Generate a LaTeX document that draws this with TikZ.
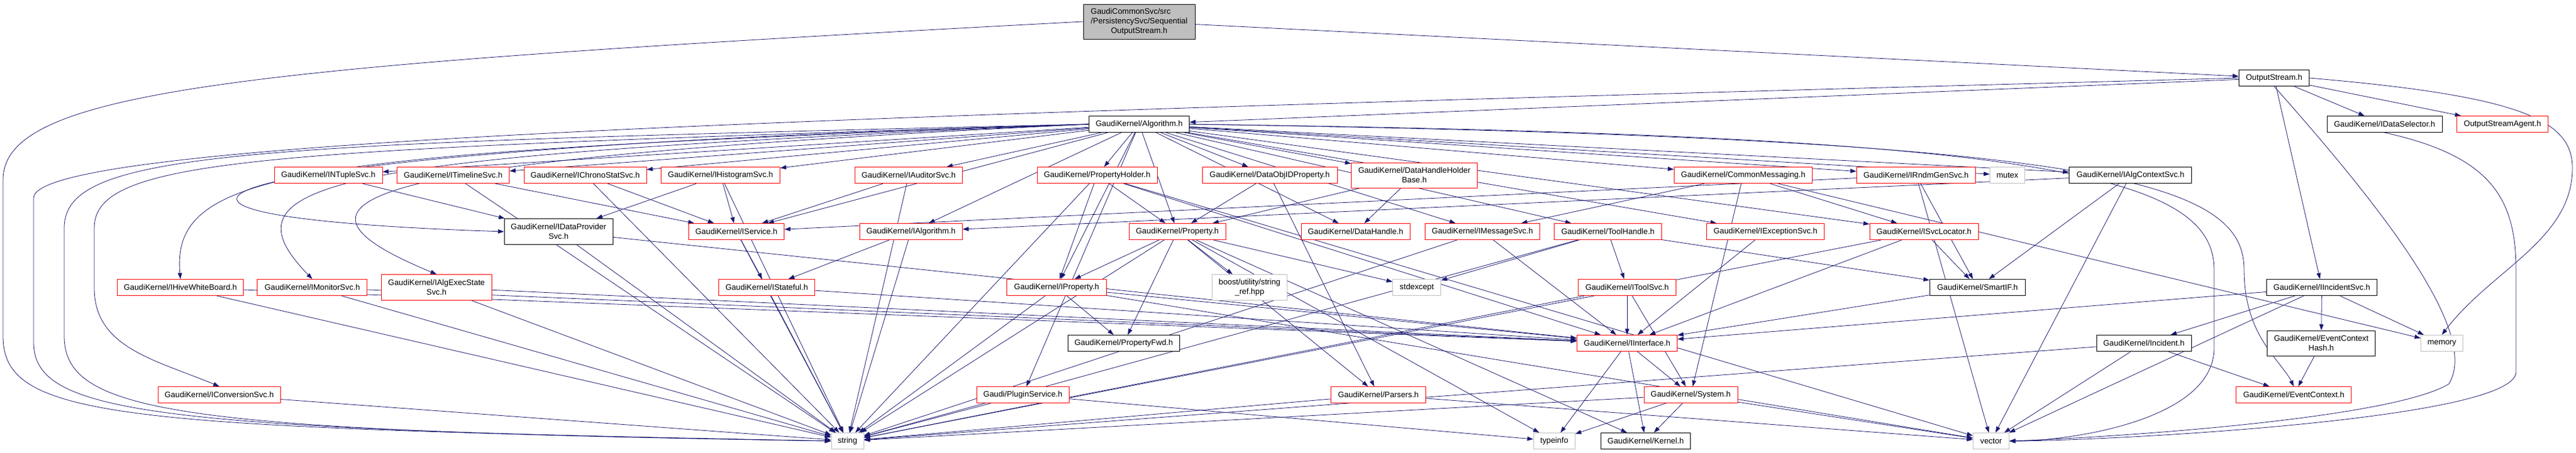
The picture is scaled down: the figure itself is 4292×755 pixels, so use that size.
\documentclass[tikz,border=0pt]{standalone}
\usepackage{fontspec}
\usepackage{tikz}
\usetikzlibrary{arrows.meta,backgrounds}
\newfontfamily\dotfont{Liberation Sans}
\definecolor{edgeblue}{HTML}{191970}
\definecolor{boxgray}{HTML}{BFBFBF}

\begin{document}
\begin{tikzpicture}[x=1pt,y=-1pt,
  box/.style={draw, fill=white, line width=1pt, inner xsep=3pt, inner ysep=2pt,
    minimum height=27pt, align=center, font={\dotfont\fontsize{13.3}{16}\selectfont}},
  redbox/.style={box, draw=red},
  blackbox/.style={box, draw=black},
  graybox/.style={box, draw=boxgray},
  rootbox/.style={box, draw=black, fill=boxgray},
  dep/.style={draw=edgeblue, line width=0.8pt, -{Triangle[length=10pt,width=7pt]}}]
\useasboundingbox (0,0) rectangle (4292,755);

% Draw root and first row
\node[rootbox, minimum width=186pt, minimum height=58pt] (root) at (1898,36)
  {\begin{tabular}{@{}l@{}}GaudiCommonSvc/src\\/PersistencySvc/Sequential\\\multicolumn{1}{@{}c@{}}{OutputStream.h}\end{tabular}};
\node[blackbox, minimum width=117pt] (outstream) at (3789,130) {OutputStream.h};
\node[blackbox, minimum width=167pt] (alg) at (1898,207) {GaudiKernel/Algorithm.h};
\node[blackbox, minimum width=192pt] (idatasel) at (3973,207) {GaudiKernel/IDataSelector.h};
\node[redbox, minimum width=152pt] (agent) at (4169.5,207) {OutputStreamAgent.h};

% Draw row two
\node[redbox, minimum width=180pt] (intuple) at (547,292) {GaudiKernel/INTupleSvc.h};
\node[redbox, minimum width=187pt] (itimeline) at (755,292) {GaudiKernel/ITimelineSvc.h};
\node[redbox, minimum width=204pt] (ichrono) at (975,292) {GaudiKernel/IChronoStatSvc.h};
\node[redbox, minimum width=198pt] (ihisto) at (1200.5,292) {GaudiKernel/IHistogramSvc.h};
\node[redbox, minimum width=179pt] (iauditor) at (1514,292) {GaudiKernel/IAuditorSvc.h};
\node[redbox, minimum width=200pt] (propholder) at (1828,292) {GaudiKernel/PropertyHolder.h};
\node[redbox, minimum width=225pt] (dataobjid) at (2115.5,292) {GaudiKernel/DataObjIDProperty.h};
\node[redbox, minimum width=210pt, minimum height=42pt] (dhhbase) at (2356.5,292) {GaudiKernel/DataHandleHolder\\Base.h};
\node[redbox, minimum width=230pt] (commsg) at (2904.4,292) {GaudiKernel/CommonMessaging.h};
\node[redbox, minimum width=198pt] (irndm) at (3192.4,292) {GaudiKernel/IRndmGenSvc.h};
\node[graybox, minimum width=58pt] (mutex) at (3344.6,292) {mutex};
\node[blackbox, minimum width=204pt] (ialgctx) at (3549.7,292) {GaudiKernel/IAlgContextSvc.h};

% Draw row three
\node[blackbox, minimum width=181pt, minimum height=43pt] (idataprov) at (930.7,386) {GaudiKernel/IDataProvider\\Svc.h};
\node[redbox, minimum width=159pt] (iservice) at (1227,386) {GaudiKernel/IService.h};
\node[redbox, minimum width=171pt] (ialgorithm) at (1517.8,386) {GaudiKernel/IAlgorithm.h};
\node[redbox, minimum width=161pt] (property) at (1961.6,386) {GaudiKernel/Property.h};
\node[redbox, minimum width=181pt] (datahandle) at (2258.6,386) {GaudiKernel/DataHandle.h};
\node[redbox, minimum width=191pt] (imsgsvc) at (2469.9,386) {GaudiKernel/IMessageSvc.h};
\node[redbox, minimum width=179pt] (toolhandle) at (2679,386) {GaudiKernel/ToolHandle.h};
\node[redbox, minimum width=196pt] (iexcsvc) at (2941.5,386) {GaudiKernel/IExceptionSvc.h};
\node[redbox, minimum width=181pt] (isvcloc) at (3205.7,386) {GaudiKernel/ISvcLocator.h};

% Draw row four
\node[redbox, minimum width=210pt] (ihive) at (300.6,479) {GaudiKernel/IHiveWhiteBoard.h};
\node[redbox, minimum width=183pt] (imonitor) at (520.3,479) {GaudiKernel/IMonitorSvc.h};
\node[redbox, minimum width=184pt, minimum height=43pt] (ialgexec) at (727.3,479) {GaudiKernel/IAlgExecState\\Svc.h};
\node[redbox, minimum width=160pt] (istateful) at (1277.5,479) {GaudiKernel/IStateful.h};
\node[redbox, minimum width=166pt] (iproperty) at (1760.5,479) {GaudiKernel/IProperty.h};
\node[graybox, minimum width=125pt, minimum height=43pt] (boost) at (2082,479) {boost/utility/string\\\_ref.hpp};
\node[graybox, minimum width=80pt] (stdexcept) at (2360.6,479) {stdexcept};
\node[redbox, minimum width=163pt] (itoolsvc) at (2711,479) {GaudiKernel/IToolSvc.h};
\node[blackbox, minimum width=159pt] (smartif) at (3294.8,479) {GaudiKernel/SmartIF.h};
\node[blackbox, minimum width=184pt] (iincsvc) at (3868.5,479) {GaudiKernel/IIncidentSvc.h};

% Draw row five
\node[blackbox, minimum width=186pt] (propfwd) at (1872.3,572) {GaudiKernel/PropertyFwd.h};
\node[redbox, minimum width=167pt] (iinterface) at (2711,572) {GaudiKernel/IInterface.h};
\node[blackbox, minimum width=158pt] (incident) at (3572,572) {GaudiKernel/Incident.h};
\node[blackbox, minimum width=180pt, minimum height=42pt] (evhash) at (3867.5,572) {GaudiKernel/EventContext\\Hash.h};
\node[graybox, minimum width=70pt] (memory) at (4068.5,572) {memory};

% Draw row six
\node[redbox, minimum width=204pt] (iconv) at (365.3,658) {GaudiKernel/IConversionSvc.h};
\node[redbox, minimum width=154pt] (plugin) at (1704.2,658) {Gaudi/PluginService.h};
\node[redbox, minimum width=158pt] (parsers) at (2296.6,658) {GaudiKernel/Parsers.h};
\node[redbox, minimum width=156pt] (system) at (2817,658) {GaudiKernel/System.h};
\node[redbox, minimum width=192pt] (evctx) at (3821.8,658) {GaudiKernel/EventContext.h};

% Draw bottom row
\node[graybox, minimum width=54pt] (string) at (1412,735) {string};
\node[graybox, minimum width=69pt] (typeinfo) at (2589.6,735) {typeinfo};
\node[blackbox, minimum width=149pt] (kernel) at (2742,735) {GaudiKernel/Kernel.h};
\node[graybox, minimum width=60pt] (vector) at (3317.5,735) {vector};

\begin{scope}[on background layer]
% Draw edges of root and OutputStream.h
\draw[dep] (root) -- (outstream);
\draw[dep] (root.west) .. controls (400,110) and (5,150) .. (5,300) -- (5,560) .. controls (5,700) and (200,712) .. (string.west);
\draw[dep] (outstream) -- (alg);
\draw[dep] (outstream) -- (idatasel);
\draw[dep] (outstream) -- (agent);
\draw[dep] (outstream) -- (iincsvc);
\draw[dep] (outstream.east) .. controls (4200,160) and (4286,200) .. (4286,280) .. controls (4286,400) and (4150,450) .. (memory.north);
\draw[dep] (outstream.south) .. controls (3990,370) and (4130,560) .. (4080,640) .. controls (3980,700) and (3500,730) .. (vector.east);
\draw[dep] (outstream.west) .. controls (1500,190) and (56,230) .. (56,330) -- (56,570) .. controls (56,690) and (250,715) .. (string.west);
\draw[dep] (idatasel.south) .. controls (4150,260) and (4192,330) .. (4192,450) -- (4192,620) .. controls (4192,700) and (3500,735) .. (vector.east);

% Draw edges of Algorithm.h
\draw[dep] (alg) -- (intuple);
\draw[dep] (alg) -- (itimeline);
\draw[dep] (alg) -- (ichrono);
\draw[dep] (alg) -- (ihisto);
\draw[dep] (alg) -- (iauditor);
\draw[dep] (alg) -- (propholder);
\draw[dep] (alg) -- (dataobjid);
\draw[dep] (alg) -- (dhhbase);
\draw[dep] (alg) -- (commsg);
\draw[dep] (alg) -- (irndm);
\draw[dep] (alg) -- (mutex);
\draw[dep] (alg) -- (ialgctx);
\draw[dep] (alg) -- (iservice);
\draw[dep] (alg) -- (ialgorithm);
\draw[dep] (alg) -- (property);
\draw[dep] (alg) -- (datahandle);
\draw[dep] (alg) -- (imsgsvc);
\draw[dep] (alg) -- (toolhandle);
\draw[dep] (alg) -- (iexcsvc);
\draw[dep] (alg) -- (isvcloc);
\draw[dep] (alg) -- (iproperty);
\draw[dep] (alg) -- (plugin);
\draw[dep] (alg.west) .. controls (300,250) and (40,360) .. (idataprov.west);
\draw[dep] (alg.west) .. controls (450,250) and (157,260) .. (157,380) -- (157,480) .. controls (157,580) and (260,600) .. (iconv.north);
\draw[dep] (alg.west) .. controls (500,255) and (285,280) .. (ihive.north);
\draw[dep] (alg.west) .. controls (550,260) and (360,300) .. (imonitor.north);
\draw[dep] (alg.west) .. controls (600,265) and (420,330) .. (ialgexec.north);
\draw[dep] (alg.west) .. controls (400,240) and (107,250) .. (107,380) -- (107,560) .. controls (107,690) and (300,718) .. (string.west);
\draw[dep] (alg.east) .. controls (3500,230) and (3739,300) .. (3739,450) .. controls (3739,560) and (3800,600) .. (evctx.north);
\draw[dep] (alg.east) .. controls (3400,225) and (3689,290) .. (3689,450) -- (3689,580) .. controls (3689,700) and (3450,735) .. (vector.east);

% Draw edges of row two
\draw[dep] (intuple) -- (idataprov);
\draw[dep] (itimeline) -- (iservice);
\draw[dep] (itimeline) -- (string);
\draw[dep] (ichrono) -- (iservice);
\draw[dep] (ichrono) -- (string);
\draw[dep] (ihisto) -- (idataprov);
\draw[dep] (ihisto) -- (iservice);
\draw[dep] (ihisto) -- (string);
\draw[dep] (iauditor) -- (iservice);
\draw[dep] (iauditor) -- (string);
\draw[dep] (propholder) -- (property);
\draw[dep] (propholder) -- (iproperty);
\draw[dep] (propholder) -- (string);
\draw[dep] (propholder) -- (iinterface);
\draw[dep] (propholder) -- (vector);
\draw[dep] (dataobjid) -- (property);
\draw[dep] (dataobjid) -- (parsers);
\draw[dep] (dhhbase) -- (datahandle);
\draw[dep] (dhhbase) -- (property);
\draw[dep] (commsg) -- (imsgsvc);
\draw[dep] (commsg) -- (isvcloc);
\draw[dep] (commsg) -- (system);
\draw[dep] (commsg) -- (memory);
\draw[dep] (irndm) -- (iservice);
\draw[dep] (irndm) -- (smartif);
\draw[dep] (irndm) -- (vector);
\draw[dep] (ialgctx) -- (ialgorithm);
\draw[dep] (ialgctx) -- (smartif);
\draw[dep] (ialgctx) -- (vector);

% Draw edges of row three
\draw[dep] (idataprov) -- (iinterface);
\draw[dep] (idataprov) -- (string);
\draw[dep] (iservice) -- (istateful);
\draw[dep] (iservice) -- (string);
\draw[dep] (ialgorithm) -- (istateful);
\draw[dep] (ialgorithm) -- (string);
\draw[dep] (property) -- (iproperty);
\draw[dep] (property) -- (propfwd);
\draw[dep] (property) -- (string);
\draw[dep] (property) -- (boost);
\draw[dep] (property) -- (stdexcept);
\draw[dep] (property) -- (parsers);
\draw[dep] (property) -- (typeinfo);
\draw[dep] (property) -- (kernel);
\draw[dep] (imsgsvc) -- (iinterface);
\draw[dep] (imsgsvc) -- (string);
\draw[dep] (toolhandle) -- (stdexcept);
\draw[dep] (toolhandle) -- (itoolsvc);
\draw[dep] (toolhandle) -- (smartif);
\draw[dep] (toolhandle) -- (string);
\draw[dep] (iexcsvc) -- (iinterface);
\draw[dep] (isvcloc) -- (smartif);
\draw[dep] (isvcloc) -- (iinterface);
\draw[dep] (isvcloc) -- (string);

% Draw edges of row four
\draw[dep] (ihive) -- (iinterface);
\draw[dep] (ihive) -- (string);
\draw[dep] (imonitor) -- (iinterface);
\draw[dep] (imonitor) -- (string);
\draw[dep] (ialgexec) -- (iinterface);
\draw[dep] (ialgexec) -- (string);
\draw[dep] (istateful) -- (iinterface);
\draw[dep] (istateful) -- (string);
\draw[dep] (iproperty) -- (iinterface);
\draw[dep] (iproperty) -- (propfwd);
\draw[dep] (iproperty) -- (string);
\draw[dep] (iproperty) -- (vector);
\draw[dep] (itoolsvc) -- (iinterface);
\draw[dep] (itoolsvc) -- (system);
\draw[dep] (itoolsvc) -- (string);
\draw[dep] (smartif) -- (iinterface);
\draw[dep] (iincsvc) -- (iinterface);
\draw[dep] (iincsvc) -- (incident);
\draw[dep] (iincsvc) -- (evhash);
\draw[dep] (iincsvc) -- (memory);
\draw[dep] (iincsvc) -- (vector);

% Draw edges of rows five and six
\draw[dep] (iinterface) -- (system);
\draw[dep] (iinterface) -- (kernel);
\draw[dep] (iinterface) -- (typeinfo);
\draw[dep] (incident) -- (evctx);
\draw[dep] (incident) -- (string);
\draw[dep] (incident) -- (vector);
\draw[dep] (evhash) -- (evctx);
\draw[dep] (iconv) -- (string);
\draw[dep] (plugin) -- (string);
\draw[dep] (plugin) -- (typeinfo);
\draw[dep] (parsers) -- (string);
\draw[dep] (parsers) -- (vector);
\draw[dep] (system) -- (kernel);
\draw[dep] (system) -- (typeinfo);
\draw[dep] (system) -- (vector);
\draw[dep] (system) -- (string);
\end{scope}
\end{tikzpicture}
\end{document}
